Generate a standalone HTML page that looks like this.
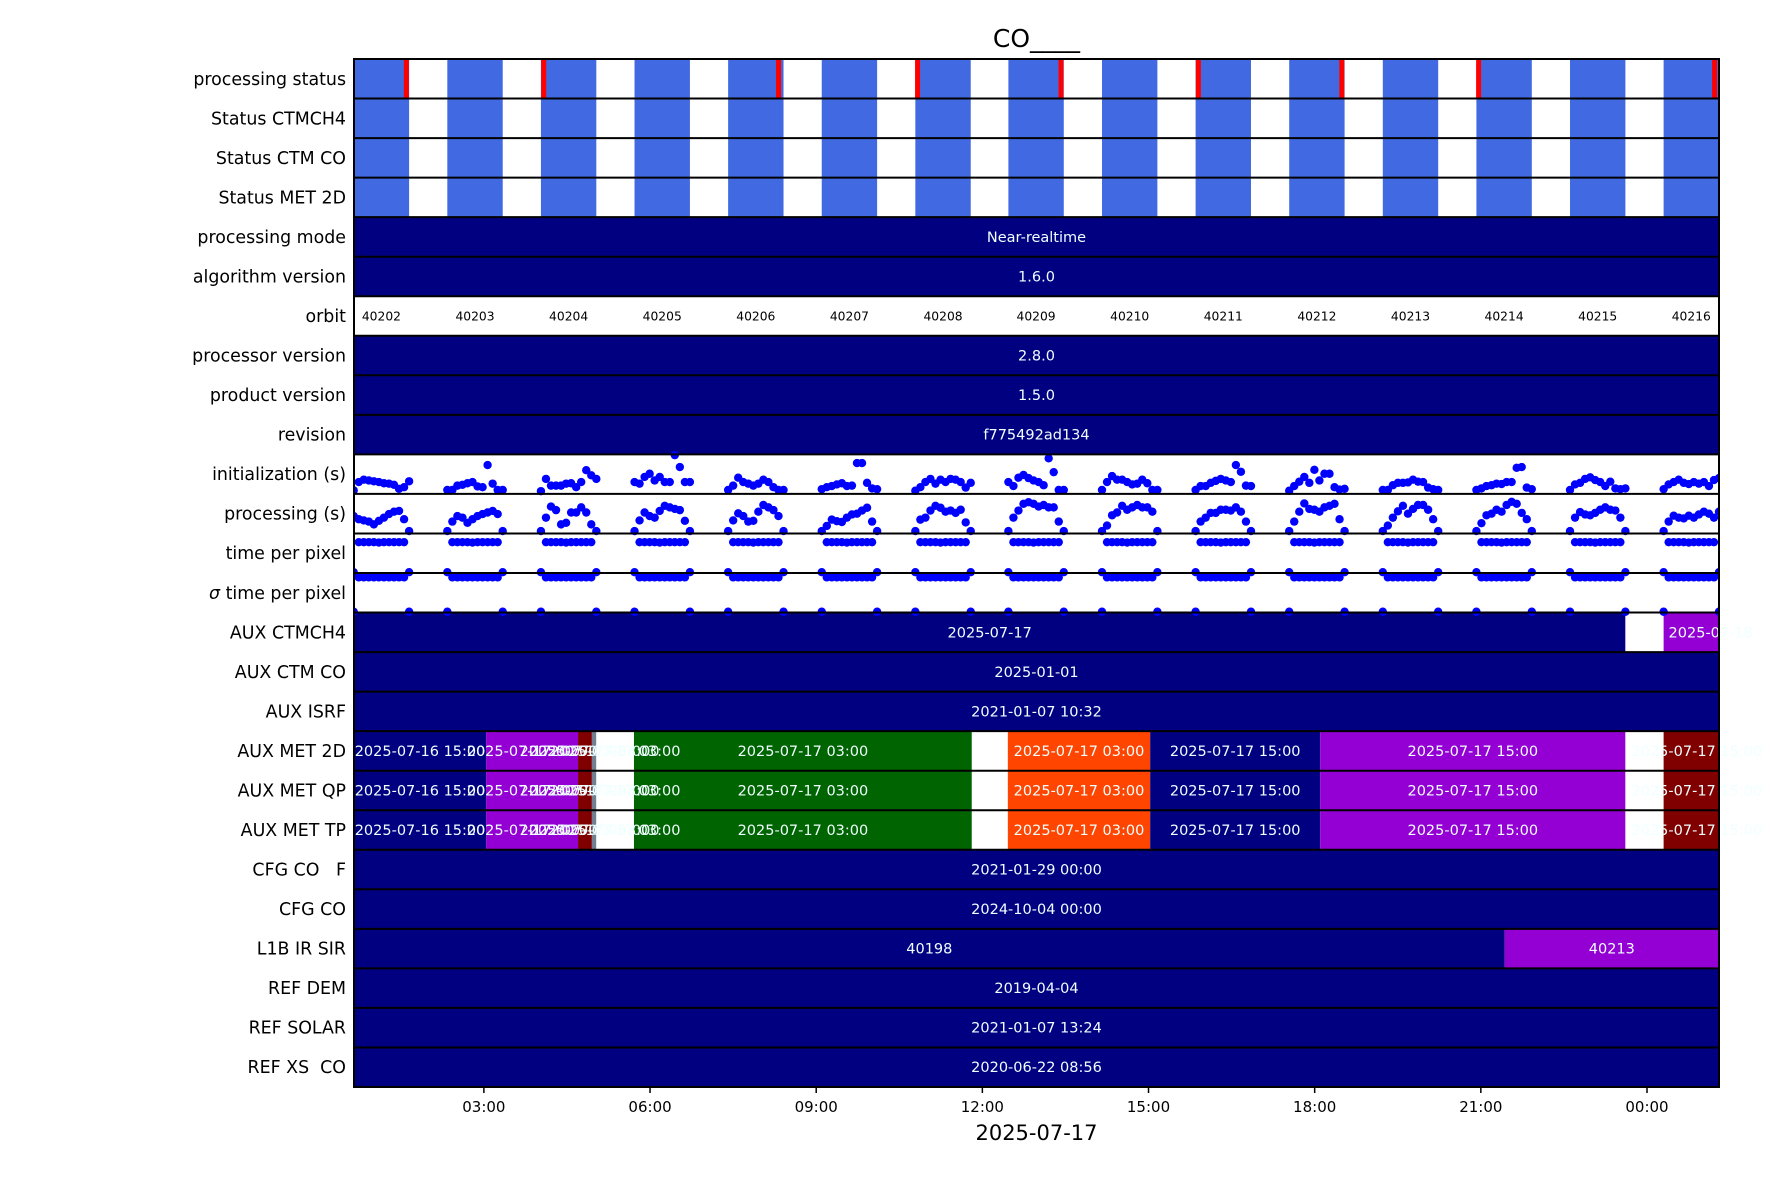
<!DOCTYPE html>
<html><head><meta charset="utf-8">
<style>
html,body{margin:0;padding:0;background:#fff;}
svg{display:block;font-family:"DejaVu Sans","Liberation Sans",sans-serif;}
</style></head>
<body>
<svg id="chart" width="1771" height="1181" viewBox="0 0 1771 1181" xmlns="http://www.w3.org/2000/svg"></svg>
<script>
// ---- data ----
const rowLabels = ["processing status","Status CTMCH4","Status CTM CO","Status MET 2D","processing mode","algorithm version","orbit","processor version","product version","revision","initialization (s)","processing (s)","time per pixel","\u03c3 time per pixel","AUX CTMCH4","AUX CTM CO","AUX ISRF","AUX MET 2D","AUX MET QP","AUX MET TP","CFG CO   F","CFG CO","L1B IR SIR","REF DEM","REF SOLAR","REF XS  CO"];
const orbitNumbers = [40202,40203,40204,40205,40206,40207,40208,40209,40210,40211,40212,40213,40214,40215,40216];
const orbitStarts = [0.65,2.34,4.03,5.72,7.41,9.10,10.79,12.47,14.16,15.85,17.54,19.23,20.92,22.61,24.30];
const orbitDuration = 1.0;
const errorTimes = [1.60,4.08,8.32,10.83,13.42,15.90,18.49,20.96,25.22];
const xTickHours = [3,6,9,12,15,18,21,24];
const xTickLabels = ["03:00","06:00","09:00","12:00","15:00","18:00","21:00","00:00"];
const constRows = [[4,"Near-realtime"],[5,"1.6.0"],[7,"2.8.0"],[8,"1.5.0"],[9,"f775492ad134"],[15,"2025-01-01"],[16,"2021-01-07 10:32"],[20,"2021-01-29 00:00"],[21,"2024-10-04 00:00"],[23,"2019-04-04"],[24,"2021-01-07 13:24"],[25,"2020-06-22 08:56"]];
const ctmch4Starts = [0.655,23.61,24.30];
const ctmch4Ends = [23.61,24.30,26.0];
const ctmch4Colors = ["#000080","#ffffff","#9400d3"];
const ctmch4Labels = ["2025-07-17","","2025-07-18"];
const metStarts = [0.655,3.04,4.70,4.95,5.03,5.71,11.81,12.46,15.03,18.10,23.61,24.30];
const metEnds = [3.04,4.70,4.95,5.03,5.71,11.81,12.46,15.03,18.10,23.61,24.30,25.50];
const metColors = ["#000080","#9400d3","#800000","#708090","#ffffff","#006400","#ffffff","#ff4500","#000080","#9400d3","#ffffff","#800000"];
const metLabels = ["2025-07-16 15:00","2025-07-17 00:00","2025-07-17 03:00","2025-07-17 03:00","2025-07-17 03:00","2025-07-17 03:00","","2025-07-17 03:00","2025-07-17 15:00","2025-07-17 15:00","","2025-07-17 15:00"];
const l1bStarts = [0.655,21.43];
const l1bEnds = [21.43,25.30];
const l1bColors = ["#000080","#9400d3"];
const l1bLabels = ["40198","40213"];
const initValues = [
 [0.09,0.30,0.36,0.34,0.32,0.30,0.27,0.26,0.23,0.13,0.17,0.32],
 [0.10,0.10,0.21,0.23,0.27,0.30,0.19,0.17,0.73,0.26,0.10,0.10],
 [0.07,0.38,0.21,0.21,0.21,0.26,0.27,0.17,0.30,0.60,0.47,0.38],
 [0.30,0.26,0.43,0.51,0.34,0.43,0.30,0.30,0.98,0.68,0.30,0.30],
 [0.10,0.21,0.41,0.30,0.26,0.21,0.26,0.36,0.30,0.17,0.10,0.10],
 [0.12,0.17,0.20,0.24,0.27,0.20,0.21,0.78,0.78,0.28,0.14,0.12],
 [0.08,0.17,0.30,0.38,0.26,0.36,0.30,0.38,0.36,0.30,0.16,0.28],
 [0.30,0.20,0.41,0.48,0.40,0.34,0.30,0.22,0.90,0.55,0.10,0.10],
 [0.10,0.30,0.45,0.36,0.36,0.30,0.24,0.26,0.36,0.27,0.10,0.10],
 [0.10,0.20,0.20,0.28,0.33,0.38,0.34,0.30,0.73,0.56,0.21,0.20],
 [0.08,0.20,0.31,0.43,0.28,0.61,0.34,0.51,0.51,0.17,0.11,0.13],
 [0.10,0.10,0.22,0.28,0.28,0.29,0.36,0.31,0.30,0.16,0.12,0.10],
 [0.10,0.14,0.20,0.22,0.26,0.25,0.30,0.30,0.66,0.68,0.16,0.12],
 [0.10,0.24,0.28,0.38,0.42,0.35,0.30,0.20,0.31,0.14,0.12,0.14],
 [0.12,0.24,0.30,0.36,0.28,0.25,0.30,0.26,0.30,0.20,0.35,0.40]];
const procValues = [
 [0.44,0.36,0.33,0.30,0.23,0.32,0.40,0.49,0.55,0.57,0.36,0.06],
 [0.06,0.30,0.44,0.40,0.27,0.36,0.44,0.49,0.53,0.57,0.49,0.06],
 [0.06,0.40,0.68,0.59,0.23,0.27,0.53,0.53,0.66,0.53,0.23,0.06],
 [0.06,0.33,0.53,0.44,0.40,0.57,0.70,0.66,0.62,0.59,0.32,0.06],
 [0.06,0.33,0.51,0.44,0.30,0.32,0.55,0.72,0.66,0.59,0.44,0.06],
 [0.06,0.19,0.35,0.31,0.29,0.40,0.48,0.50,0.58,0.65,0.30,0.06],
 [0.06,0.35,0.40,0.58,0.70,0.65,0.55,0.58,0.52,0.60,0.28,0.06],
 [0.06,0.40,0.58,0.75,0.79,0.75,0.68,0.72,0.66,0.66,0.30,0.06],
 [0.06,0.20,0.46,0.53,0.70,0.60,0.66,0.72,0.66,0.66,0.55,0.06],
 [0.06,0.30,0.40,0.52,0.52,0.60,0.60,0.58,0.66,0.55,0.30,0.06],
 [0.06,0.30,0.55,0.76,0.62,0.60,0.55,0.66,0.70,0.75,0.36,0.06],
 [0.06,0.20,0.40,0.56,0.70,0.50,0.62,0.72,0.72,0.60,0.36,0.06],
 [0.06,0.26,0.46,0.50,0.60,0.55,0.72,0.80,0.75,0.52,0.36,0.06],
 [0.06,0.40,0.54,0.48,0.46,0.52,0.60,0.66,0.60,0.58,0.40,0.06],
 [0.06,0.30,0.45,0.40,0.38,0.45,0.40,0.48,0.55,0.50,0.40,0.55]];
const tppValues = [0.02,0.78,0.78,0.78,0.78,0.77,0.78,0.78,0.78,0.78,0.78,0.02];
const sigmaValues = [0.02,0.89,0.89,0.89,0.89,0.89,0.89,0.89,0.89,0.89,0.89,0.02];

// ---- geometry ----
const svg = document.getElementById('chart');
const NS = 'http://www.w3.org/2000/svg';
const L = 354, R = 1719, T = 59, B = 1087;
const xMin = 0.655, xMax = 25.30;
const nRows = rowLabels.length;
const rowH = (B - T) / nRows;
const x = h => L + (h - xMin) / (xMax - xMin) * (R - L);
const rowTop = i => T + i * rowH;
function el(tag, attrs, parent) {
  const e = document.createElementNS(NS, tag);
  for (const k in attrs) e.setAttribute(k, attrs[k]);
  (parent || svg).appendChild(e);
  return e;
}
const defs = el('defs', {});
const cp = el('clipPath', {id: 'plotclip'}, defs);
el('rect', {x: L, y: T, width: R - L, height: B - T}, cp);
const plot = el('g', {'clip-path': 'url(#plotclip)'});


const textLayer = el('g', {});



function seg(row, h0, h1, color, label, name) {
  const a = Math.max(x(h0), L), b = Math.min(x(h1), R);
  const r = el('rect', {x: a, y: rowTop(row), width: Math.max(0, b - a), height: rowH, fill: color}, plot);
  
  
  if (label) {
    const t = el('text', {x: (Math.max(x(h0), L) + x(h1)) / 2, y: rowTop(row) + rowH / 2 + 5, 'text-anchor': 'middle', 'font-size': 14.5, fill: '#f0ffff'}, textLayer);
    t.textContent = label;
    
    
  }
}

for (let r = 0; r < 4; r++) {
  orbitStarts.forEach((s, k) => {
    const a = x(s), b = x(s + orbitDuration);
    const rc = el('rect', {x: a, y: rowTop(r), width: b - a, height: rowH, fill: '#4169e1'}, plot);
    
    
  });
}
errorTimes.forEach(t => {
  const rc = el('rect', {x: x(t) - 2.5, y: rowTop(0), width: 5, height: rowH, fill: '#ff0000'}, plot);
  
  
});
constRows.forEach(([r, lab]) => seg(r, xMin, xMax, '#000080', lab, 'row-bar'));
orbitNumbers.forEach((n, k) => {
  const t = el('text', {x: x(orbitStarts[k] + orbitDuration / 2), y: rowTop(6) + rowH / 2 + 4.5, 'text-anchor': 'middle', 'font-size': 12.3, fill: '#000'}, textLayer);
  t.textContent = n;
  
  
});
ctmch4Starts.forEach((s, i) => seg(14, s, ctmch4Ends[i], ctmch4Colors[i], ctmch4Labels[i], 'aux-ctmch4-segment'));
[17, 18, 19].forEach(r => metStarts.forEach((s, i) => seg(r, s, metEnds[i], metColors[i], metLabels[i], 'aux-met-segment')));
l1bStarts.forEach((s, i) => seg(22, s, l1bEnds[i], l1bColors[i], l1bLabels[i], 'l1b-segment'));

function dots(row, valsPerOrbit, name) {
  orbitStarts.forEach((s, k) => {
    const vals = valsPerOrbit[k];
    vals.forEach((v, i) => {
      const h = s + orbitDuration * i / (vals.length - 1);
      const c = el('circle', {cx: x(h), cy: rowTop(row) + rowH * (1 - v), r: 4.2, fill: '#0000ff'}, plot);
      
      
    });
  });
}
dots(10, initValues, 'init-point');
dots(11, procValues, 'proc-point');
dots(12, orbitStarts.map(() => tppValues), 'tpp-point');
dots(13, orbitStarts.map(() => sigmaValues), 'sigma-point');

for (let i = 0; i <= nRows; i++) {
  el('line', {x1: L, x2: R, y1: rowTop(i), y2: rowTop(i), stroke: '#000', 'stroke-width': 2});
}
rowLabels.forEach((lab, i) => {
  const t = el('text', {x: 346, y: rowTop(i) + rowH / 2 + 6, 'text-anchor': 'end', 'font-size': 17.4, fill: '#000', 'xml:space': 'preserve'});
  if (lab.startsWith('\u03c3')) {
    const s1 = el('tspan', {'font-style': 'italic'}, t); s1.textContent = '\u03c3';
    const s2 = el('tspan', {}, t); s2.textContent = lab.slice(1);
  } else t.textContent = lab;
  t.style.whiteSpace = 'pre';
  
  
});
el('rect', {x: L, y: T, width: R - L, height: B - T, fill: 'none', stroke: '#000', 'stroke-width': 2});

xTickHours.forEach((h, i) => {
  el('line', {x1: x(h), x2: x(h), y1: B, y2: B + 6, stroke: '#000', 'stroke-width': 1.5});
  const t = el('text', {x: x(h), y: B + 25, 'text-anchor': 'middle', 'font-size': 15, fill: '#000'});
  t.textContent = xTickLabels[i];
  
  
});
const xl = el('text', {x: (L + R) / 2, y: 1140, 'text-anchor': 'middle', 'font-size': 21, fill: '#000'});
xl.textContent = '2025-07-17';


const title = el('text', {x: (L + R) / 2, y: 47, 'text-anchor': 'middle', 'font-size': 25, fill: '#000'});
title.textContent = 'CO____';


</script>
</body></html>
